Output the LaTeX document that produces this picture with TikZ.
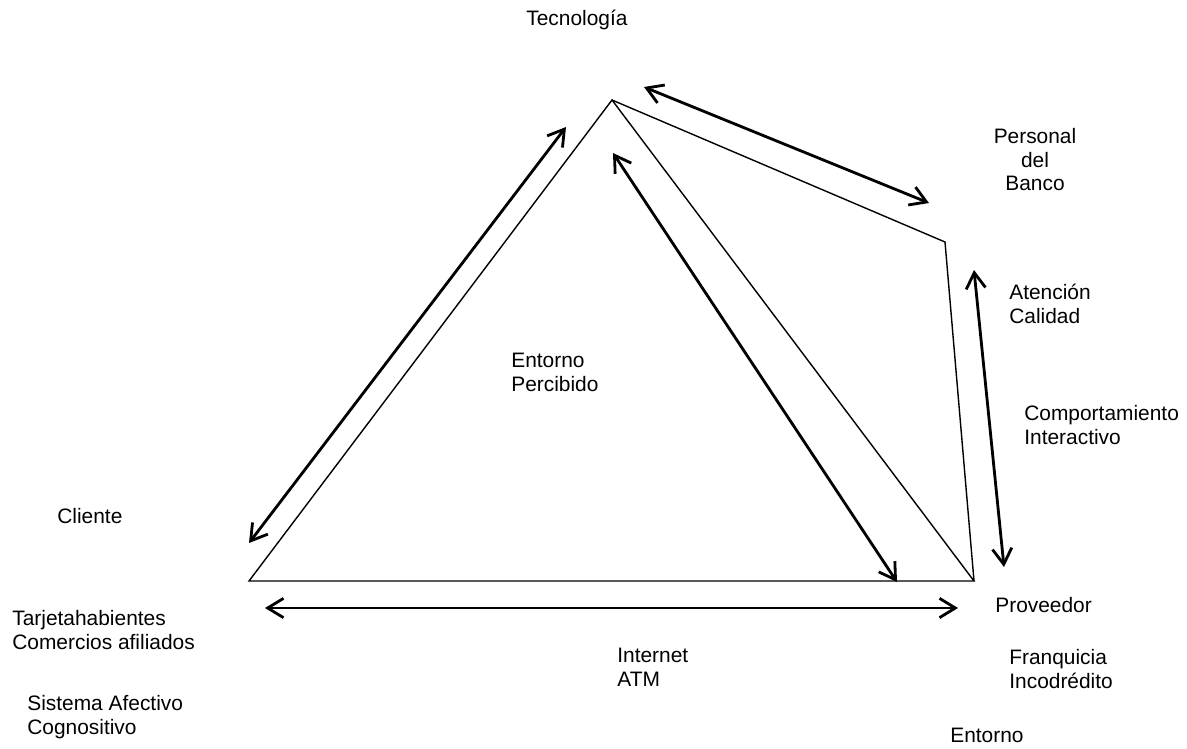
\documentclass[tikz,border=0pt]{standalone}
\usepackage{fontspec}
\setmainfont{Liberation Sans}
\usetikzlibrary{arrows.meta}

\begin{document}
\begin{tikzpicture}[
    x=0.02cm, y=-0.02cm,
    txt/.style={inner sep=0pt, anchor=north west, align=left, font=\fontsize{11.9}{13.4}\selectfont},
    side/.style={line width=0.8pt, line join=miter},
    arrow/.style={{Straight Barb[length=9pt,width=11pt]}-{Straight Barb[length=9pt,width=11pt]}, line width=1.6pt}
]
    \useasboundingbox (0,0) rectangle (1187,748);

    % corners of the figure
    \coordinate (top) at (612,100);
    \coordinate (left) at (249,581);
    \coordinate (right) at (974,581);
    \coordinate (bank) at (945,242);

    \draw[side] (left) -- (top) -- (right) -- cycle;
    \draw[side] (top) -- (bank) -- (right);

    % arrow ends
    \coordinate (a1) at (644,87);   \coordinate (b1) at (929,203);
    \coordinate (a2) at (566,127);  \coordinate (b2) at (249,543);
    \coordinate (a3) at (613,153);  \coordinate (b3) at (897,582);
    \coordinate (a4) at (974,270);  \coordinate (b4) at (1004,567);
    \coordinate (a5) at (265,608);  \coordinate (b5) at (958,608);

    \draw[arrow] (a1) -- (b1);
    \draw[arrow] (a2) -- (b2);
    \draw[arrow] (a3) -- (b3);
    \draw[arrow] (a4) -- (b4);
    \draw[arrow] (a5) -- (b5);

    % texts
    \node[txt] (tecno) at (526,10) {Tecnología};
    \node[txt, anchor=north, align=center] (personal) at (1035,128) {Personal\\del\\Banco};
    \node[txt] (atencion) at (1009,284) {Atención\\Calidad};
    \node[txt] (comport) at (1024,405) {Comportamiento\\Interactivo};
    \node[txt] (percibido) at (511,353) {Entorno\\Percibido};
    \node[txt] (cliente) at (57,508) {Cliente};
    \node[txt] (tarjeta) at (12,610) {Tarjetahabientes\\Comercios afiliados};
    \node[txt] (sistema) at (27,695) {Sistema Afectivo\\Cognositivo};
    \node[txt] (proveedor) at (995,597) {Proveedor};
    \node[txt] (internet) at (617,648) {Internet\\ATM};
    \node[txt] (franquicia) at (1009,649) {Franquicia\\Incodrédito};
    \node[txt] (entorno) at (950,728) {Entorno};
\end{tikzpicture}
\end{document}
